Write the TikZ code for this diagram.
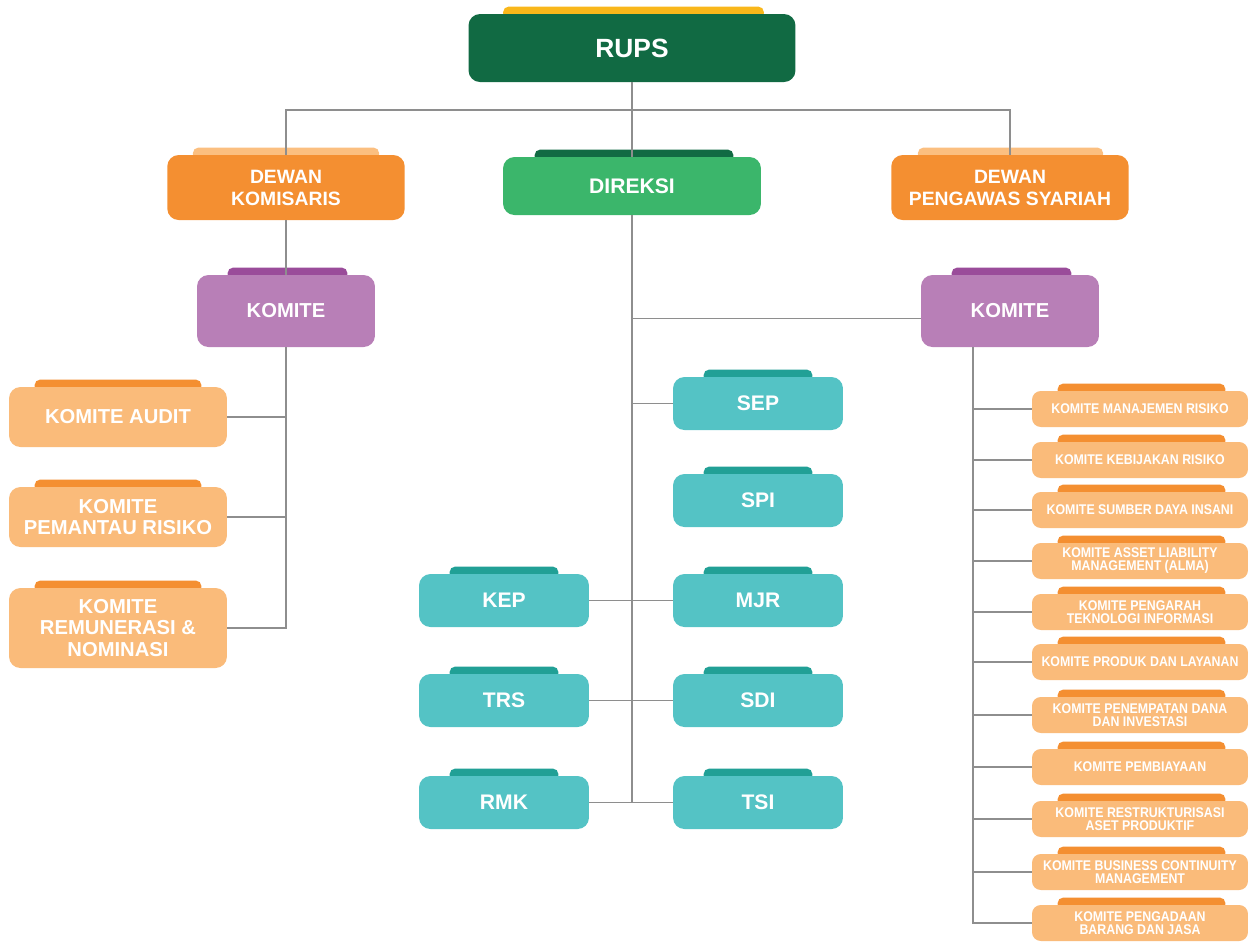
\documentclass[tikz,border=0pt]{standalone}
\usepackage{fontspec}
\setmainfont{Liberation Sans}
\newfontfamily\narrowfont[FakeStretch=0.88]{Liberation Sans}
\usepackage{tikz}
\usetikzlibrary{positioning}
\usetikzlibrary{backgrounds}

\definecolor{rupsgreen}{HTML}{116A43}
\definecolor{rupsgold}{HTML}{F9B71A}
\definecolor{dewanorange}{HTML}{F48F31}
\definecolor{dewantab}{HTML}{FBBF80}
\definecolor{direksigreen}{HTML}{3BB66B}
\definecolor{komitepurple}{HTML}{B87FB7}
\definecolor{komitetab}{HTML}{9A4C9A}
\definecolor{unitteal}{HTML}{54C3C5}
\definecolor{unittab}{HTML}{21A096}
\definecolor{subkomite}{HTML}{FABB7A}
\definecolor{linkgray}{HTML}{8E8E8E}

\begin{document}
\begin{tikzpicture}[x=0.02cm, y=-0.02cm,
        box/.style={rectangle, rounded corners=6.5pt, text=white, align=center, inner sep=0pt},
        rups/.style={box, fill=rupsgreen, minimum width=6.54cm, minimum height=1.36cm, font=\fontsize{15}{17}\selectfont\bfseries},
        dewan/.style={box, fill=dewanorange, minimum width=4.75cm, minimum height=1.3cm, font=\fontsize{11}{12.5}\selectfont\bfseries},
        direksi/.style={box, fill=direksigreen, minimum width=5.16cm, minimum height=1.16cm, font=\fontsize{12}{13}\selectfont\bfseries},
        komite/.style={box, fill=komitepurple, minimum width=3.56cm, minimum height=1.44cm, font=\fontsize{11.5}{13}\selectfont\bfseries},
        subkom/.style={box, fill=subkomite, minimum width=4.36cm, minimum height=1.2cm, font=\fontsize{11.5}{12}\selectfont\bfseries},
        unit/.style={box, fill=unitteal, minimum width=3.4cm, minimum height=1.06cm, font=\fontsize{12}{13}\selectfont\bfseries},
        smallkom/.style={box, fill=subkomite, rounded corners=5pt, minimum width=4.32cm, minimum height=0.72cm, font=\narrowfont\fontsize{8}{7.4}\selectfont\bfseries},
        link/.style={draw=linkgray, line width=0.85pt}
      ]
        \useasboundingbox (0,0) rectangle (1248,941);

        % top level
        \node[rups]     (rups)      at (632,48)     {RUPS};
        \node[dewan]    (dk)        at (286,187.5)  {DEWAN\\KOMISARIS};
        \node[direksi]  (direksi)   at (632,186)    {DIREKSI};
        \node[dewan]    (dps)       at (1010,187.5) {DEWAN\\PENGAWAS SYARIAH};

        % komite
        \node[komite]   (komL)      at (286,311)    {KOMITE};
        \node[komite]   (komR)      at (1010,311)   {KOMITE};

        % komite dewan komisaris
        \node[subkom]   (audit)     at (118,417)    {KOMITE AUDIT};
        \node[subkom]   (pemantau)  at (118,517)    {KOMITE\\PEMANTAU RISIKO};
        \node[subkom, minimum height=1.6cm] (remun) at (118,628) {KOMITE\\REMUNERASI \&\\NOMINASI};

        % satuan kerja direksi
        \node[unit]     (sep)       at (758,403.5)  {SEP};
        \node[unit]     (spi)       at (758,500.5)  {SPI};
        \node[unit]     (mjr)       at (758,600.5)  {MJR};
        \node[unit]     (sdi)       at (758,700.5)  {SDI};
        \node[unit]     (tsi)       at (758,802.5)  {TSI};
        \node[unit]     (kep)       at (504,600.5)  {KEP};
        \node[unit]     (trs)       at (504,700.5)  {TRS};
        \node[unit]     (rmk)       at (504,802.5)  {RMK};

        % komite direksi
        \foreach \i/\y/\t in {1/409/{KOMITE MANAJEMEN RISIKO},
                              2/460/{KOMITE KEBIJAKAN RISIKO},
                              3/510/{KOMITE SUMBER DAYA INSANI},
                              4/561/{KOMITE ASSET LIABILITY\\MANAGEMENT (ALMA)},
                              5/612/{KOMITE PENGARAH\\TEKNOLOGI INFORMASI},
                              6/662/{KOMITE PRODUK DAN LAYANAN},
                              7/715/{KOMITE PENEMPATAN DANA\\DAN INVESTASI},
                              8/767/{KOMITE PEMBIAYAAN},
                              9/819/{KOMITE RESTRUKTURISASI\\ASET PRODUKTIF},
                              10/872/{KOMITE BUSINESS CONTINUITY\\MANAGEMENT},
                              11/923/{KOMITE PENGADAAN\\BARANG DAN JASA}}
            \node[smallkom] (k\i) at (1140,\y) {\t};

        % tabs on top of the boxes
        \begin{scope}[on background layer]
          \foreach \n/\c/\l/\r in {rups/rupsgold/35/32, dk/dewantab/26/26, dps/dewantab/27/26,
                                   direksi/rupsgreen/32/28, komL/komitetab/31/28, komR/komitetab/31/28,
                                   audit/dewanorange/26/26, pemantau/dewanorange/26/26, remun/dewanorange/26/26,
                                   sep/unittab/31/31, spi/unittab/31/31, mjr/unittab/31/31, sdi/unittab/31/31,
                                   tsi/unittab/31/31, kep/unittab/31/31, trs/unittab/31/31, rmk/unittab/31/31,
                                   k1/dewanorange/26/23, k2/dewanorange/26/23, k3/dewanorange/26/23,
                                   k4/dewanorange/26/23, k5/dewanorange/26/23, k6/dewanorange/26/23,
                                   k7/dewanorange/26/23, k8/dewanorange/26/23, k9/dewanorange/26/23,
                                   k10/dewanorange/26/23, k11/dewanorange/26/23}
            \fill[\c, rounded corners=3pt] ([xshift=\l*0.02cm, yshift=-0.1cm]\n.north west)
                rectangle ([xshift=-\r*0.02cm, yshift=0.14cm]\n.north east);
        \end{scope}

        % connectors
        \coordinate (bus) at (632,110);
        \coordinate (spine) at (973,347);
        \draw[link] (dk.north) |- (bus) -| (dps.north);
        \draw[link] (rups.south) -- (direksi.north);
        \draw[link] (dk.south) -- (komL.north);
        \draw[link] (komL.south) |- (remun.east);
        \draw[link] (audit.east) -- (audit.east -| komL.south);
        \draw[link] (pemantau.east) -- (pemantau.east -| komL.south);

        \draw[link] (direksi.south) -- (direksi.south |- tsi.west);
        \draw[link] ([yshift=-0.15cm]komR.west) -- ([yshift=-0.15cm]komR.west -| direksi.south);
        \draw[link] (sep.west) -- (sep.west -| direksi.south);
        \draw[link] (kep.east) -- (mjr.west);
        \draw[link] (trs.east) -- (sdi.west);
        \draw[link] (rmk.east) -- (tsi.west);

        \draw[link] (spine) |- (k11.west);
        \foreach \i in {1,...,10}
            \draw[link] (k\i.west) -- (k\i.west -| spine);
      \end{tikzpicture}
\end{document}
